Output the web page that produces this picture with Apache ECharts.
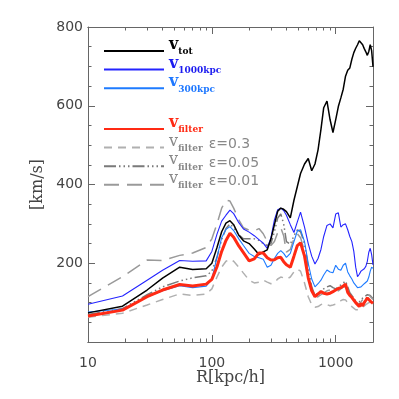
<!DOCTYPE html>
<html>
<head>
<meta charset="utf-8">
<script src="https://cdn.jsdelivr.net/npm/echarts@6/dist/echarts.min.js"></script>
<style>
  html, body { margin: 0; padding: 0; background: #fff; }
  #main { width: 399px; height: 399px; }
</style>
</head>
<body>
<div id="main"></div>
<script>
  // R [kpc/h]
  var radius = [10, 19, 30, 40, 55, 70, 90, 100, 110, 120, 130, 140, 150, 165, 180,
    200, 220, 240, 260, 280, 300, 320, 340, 360, 380, 400, 430, 460, 490, 520,
    560, 600, 640, 680, 720, 760, 800, 850, 900, 950, 1000, 1050, 1100, 1150, 1200,
    1250, 1300, 1350, 1400, 1450, 1500, 1550, 1600, 1650, 1700, 1750, 1800, 1850, 1900, 1950, 2000];

  // velocities [km/s]
  var vTot = [74, 91, 132, 162, 190, 184, 186, 200, 240, 280, 302, 308, 298, 271, 257,
    250, 236, 222, 229, 234, 262, 298, 332, 340, 337, 331, 315, 360, 395, 428,
    452, 466, 435, 452, 488, 540, 595, 612, 565, 532, 565, 598, 620, 642, 675,
    690, 696, 718, 735, 746, 755, 765, 762, 755, 745, 737, 728, 738, 755, 740, 699];
  var v1000 = [96, 117, 157, 182, 207, 205, 206, 230, 274, 307, 322, 335, 326, 303, 287,
    279, 270, 260, 251, 238, 265, 310, 336, 340, 334, 322, 298, 278, 305, 330,
    292, 250, 218, 198, 212, 235, 268, 296, 300, 290, 325, 328, 292, 298, 300,
    285, 268, 255, 230, 190, 166, 172, 180, 182, 186, 192, 205, 228, 238, 222, 196];
  var v300 = [76, 84, 114, 130, 143, 138, 142, 160, 215, 265, 286, 293, 283, 262, 245,
    225, 217, 214, 210, 190, 195, 212, 225, 232, 225, 215, 225, 255, 282, 285,
    255, 200, 160, 140, 148, 157, 170, 183, 178, 176, 195, 185, 182, 195, 200,
    178, 168, 160, 150, 145, 138, 135, 140, 145, 148, 150, 155, 165, 180, 190, 187];
  var vFilter = [66, 81, 115, 132, 146, 142, 147, 159, 191, 230, 258, 276, 266, 244, 227,
    206, 211, 226, 226, 214, 208, 209, 214, 215, 204, 196, 190, 218, 245, 252,
    218, 163, 130, 115, 122, 128, 124, 122, 124, 128, 132, 136, 138, 142, 147,
    126, 118, 113, 108, 100, 95, 90, 98, 92, 100, 106, 112, 110, 104, 108, 98];
  var vEps03 = [63, 73, 94, 108, 122, 118, 122, 135, 165, 190, 205, 210, 205, 190, 175,
    157, 150, 152, 157, 152, 148, 150, 160, 165, 163, 160, 165, 178, 185, 180,
    150, 115, 95, 88, 90, 95, 98, 95, 92, 94, 96, 100, 105, 108, 107,
    100, 95, 90, 85, 82, 80, 82, 85, 88, 92, 95, 98, 100, 102, 100, 98];
  var vEps005 = [70, 85, 120, 140, 155, 163, 168, 180, 215, 260, 288, 300, 290, 272, 262,
    262, 262, 258, 250, 245, 250, 280, 315, 325, 300, 255, 248, 270, 285, 280,
    250, 190, 140, 118, 125, 130, 135, 140, 143, 138, 135, 140, 145, 150, 155,
    140, 125, 118, 115, 105, 100, 102, 108, 112, 115, 118, 120, 122, 118, 115, 110];
  var vEps001 = [115, 166, 208, 207, 220, 226, 240, 262, 300, 340, 360, 358, 340, 310, 290,
    284, 282, 288, 275, 255, 245, 255, 278, 290, 270, 228, 235, 262, 275, 265,
    230, 170, 130, 112, 115, 120, 125, 130, 132, 130, 128, 130, 135, 140, 140,
    128, 118, 112, 108, 100, 95, 96, 102, 108, 112, 115, 118, 120, 116, 112, 108];

  var xMajorTicks = [10, 100, 1000];
  var xMinorTicks = [20, 30, 40, 50, 60, 70, 80, 90, 200, 300, 400, 500, 600, 700, 800, 900];
  var xRange = [10, 2000];
  var yRange = [0, 800];

  var axisColor = '#666';
  var labelColor = '#444';

  function pairs(vals) {
    return radius.map(function (r, i) { return [Math.log10(r), vals[i]]; });
  }

  function xAxisCfg(pos, ticks, len, labels) {
    var lg = ticks.map(function (t) { return Math.log10(t); });
    return {
      type: 'value', position: pos,
      min: Math.log10(xRange[0]), max: Math.log10(xRange[1]),
      axisLine: { show: true, onZero: false, lineStyle: { color: axisColor, width: 1 } },
      axisTick: { show: true, inside: true, length: len, customValues: lg, lineStyle: { color: axisColor } },
      axisLabel: {
        show: labels, customValues: lg, margin: 14,
        color: labelColor, fontSize: 14, fontFamily: 'DejaVu Sans',
        formatter: function (v) { return String(Math.round(Math.pow(10, v))); }
      },
      splitLine: { show: false },
      name: labels ? 'R[kpc/h]' : '', nameLocation: 'middle', nameGap: 28, nameMoveOverlap: false,
      nameTextStyle: { color: labelColor, fontSize: 16, fontFamily: 'DejaVu Serif' }
    };
  }

  function yAxisCfg(pos, labels) {
    return {
      type: 'value', position: pos, min: yRange[0], max: yRange[1], interval: 200,
      axisLine: { show: true, onZero: false, lineStyle: { color: axisColor, width: 1 } },
      axisTick: { show: true, inside: true, length: 7, lineStyle: { color: axisColor } },
      minorTick: { show: true, splitNumber: 4, length: 3.5, lineStyle: { color: axisColor } },
      axisLabel: { show: labels, showMinLabel: false, margin: 5, color: labelColor, fontSize: 14, fontFamily: 'DejaVu Sans' },
      splitLine: { show: false },
      name: labels ? '[km/s]' : '', nameLocation: 'middle', nameGap: 36,
      nameTextStyle: { color: labelColor, fontSize: 16, fontFamily: 'DejaVu Serif' }
    };
  }

  function line(name, vals, color, width, type, z) {
    return {
      name: name, type: 'line', data: pairs(vals), symbol: 'none', smooth: false,
      xAxisIndex: 0, yAxisIndex: 0, z: z, animation: false,
      itemStyle: { color: color },
      lineStyle: { color: color, width: width, type: type }
    };
  }

  // subscripts: tokens shifted with padding
  function rich(c, bold) {
    return {
      v: { fontFamily: 'DejaVu Serif', fontWeight: bold ? 'bold' : 'normal', fontSize: 16, color: c, height: 8, padding: [0, 0, 12, 0] },
      s: { fontFamily: 'DejaVu Serif', fontWeight: 'bold', fontSize: 9, color: c, height: 8, padding: [2, 0, 0, 0] },
      e: { fontFamily: 'DejaVu Sans', fontSize: 14, color: c, height: 8, padding: [0, 0, 6, 6] }
    };
  }

  var labels = {
    'tot': '{v|v}{s|tot}',
    '1000kpc': '{v|v}{s|1000kpc}',
    '300kpc': '{v|v}{s|300kpc}',
    'filter': '{v|v}{s|filter}',
    'e0.3': '{v|v}{s|filter}{e|\u03b5=0.3}',
    'e0.05': '{v|v}{s|filter}{e|\u03b5=0.05}',
    'e0.01': '{v|v}{s|filter}{e|\u03b5=0.01}'
  };

  function legendItem(name, color, bold) {
    return { name: name, textStyle: { rich: rich(color, bold) } };
  }

  var legendBase = {
    orient: 'vertical', left: 103, padding: 0, itemWidth: 60, itemHeight: 14, itemGap: -1,
    selectedMode: false, itemStyle: { opacity: 0 },
    formatter: function (n) { return labels[n]; }
  };

  var chart = echarts.init(document.getElementById('main'));
  chart.setOption({
    animation: false,
    backgroundColor: '#fff',
    grid: { left: 88, right: 26, top: 27, bottom: 57 },
    xAxis: [
      xAxisCfg('bottom', xMajorTicks, 7, true),
      xAxisCfg('bottom', xMinorTicks, 3.5, false),
      xAxisCfg('top', xMajorTicks, 7, false),
      xAxisCfg('top', xMinorTicks, 3.5, false)
    ],
    yAxis: [yAxisCfg('left', true), yAxisCfg('right', false)],
    legend: [
      Object.assign({}, legendBase, {
        top: 37,
        data: [legendItem('tot', '#000', true), legendItem('1000kpc', '#1c1cf0', true), legendItem('300kpc', '#1f78ff', true)]
      }),
      Object.assign({}, legendBase, {
        top: 115,
        data: [legendItem('filter', '#ff2a14', true), legendItem('e0.3', '#888', false),
          legendItem('e0.05', '#888', false), legendItem('e0.01', '#888', false)]
      })
    ],
    series: [
      line('e0.3', vEps03, '#b0b0b0', 1.5, [8, 6], 2),
      line('e0.05', vEps005, '#7a7a7a', 1.5, [12, 3, 1.5, 3, 1.5, 3, 1.5, 3], 2),
      line('e0.01', vEps001, '#9a9a9a', 1.5, [15, 8], 2),
      line('1000kpc', v1000, '#2424ff', 1.1, 'solid', 3),
      line('300kpc', v300, '#1e7bff', 1.1, 'solid', 3),
      line('tot', vTot, '#000', 1.5, 'solid', 4),
      line('filter', vFilter, '#ff2a14', 3, 'solid', 5)
    ]
  });
</script>
</body>
</html>
